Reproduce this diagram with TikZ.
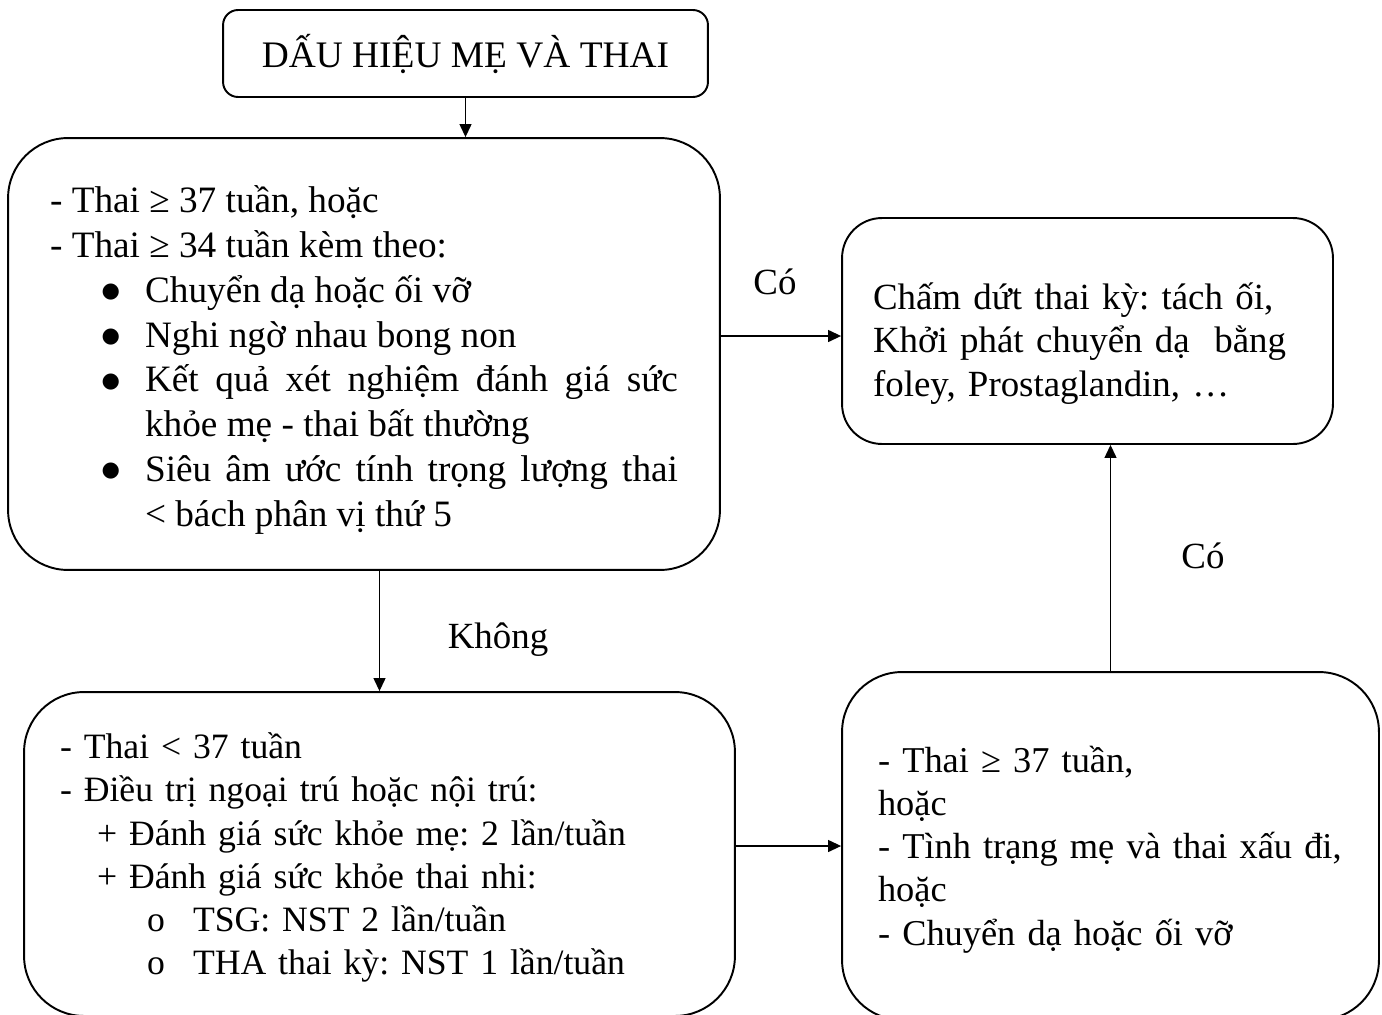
\documentclass[tikz,border=0pt]{standalone}
\usepackage{fontspec}
\setmainfont{Liberation Serif}
\newfontfamily\symfont{DejaVu Sans}
\usepackage{enumitem}
\usetikzlibrary{positioning,arrows.meta}
\frenchspacing

\begin{document}
\begin{tikzpicture}[x=0.02cm,y=-0.02cm,
  every node/.style={font=\fontsize{21pt}{25pt}\selectfont},
  box/.style={draw,line width=1.1pt,inner ysep=4pt},
  link/.style={line width=0.7pt,-{Triangle[length=0.26cm,width=0.24cm]}}]
\useasboundingbox (0,0) rectangle (1382,1014);
\clip (0,0) rectangle (1382,1014);

\node[box,rounded corners=0.3cm,minimum width=9.7cm,minimum height=1.74cm,font=\fontsize{21.3pt}{25pt}\selectfont] (signs) at (465.5,53.5) {\raisebox{-0.1cm}{DẤU HIỆU MẸ VÀ THAI}};

\node[box,rounded corners=1.2cm,text width=12.56cm,inner xsep=0.84cm,minimum height=8.64cm,align=justify,font=\fontsize{21.2pt}{25.5pt}\selectfont] (term) at (364,354) {\par\vspace*{-0.12cm}- Thai ≥ 37 tuần, hoặc\\
- Thai ≥ 34 tuần kèm theo:
\begin{itemize}[leftmargin=1.9cm,labelsep=0.5cm,itemsep=0pt,topsep=0pt,parsep=0pt,partopsep=0pt,label={\raisebox{0.09cm}{\symfont\fontsize{12pt}{12pt}\selectfont ●}}]
\item Chuyển dạ hoặc ối vỡ
\item Nghi ngờ nhau bong non
\item Kết quả xét nghiệm đánh giá sức\linebreak khỏe mẹ - thai bất thường
\item Siêu âm ước tính trọng lượng thai\linebreak < bách phân vị thứ 5
\end{itemize}};

\node[box,rounded corners=0.8cm,text width=8.58cm,inner xsep=0.62cm,minimum height=4.52cm,align=left] (end) at (1087.5,331) {\par\vspace*{0.16cm}Chấm dứt thai kỳ: tách ối,\\
Khởi phát chuyển dạ \ bằng\\
foley, Prostaglandin, …};

\node[box,rounded corners=1.2cm,text width=12.78cm,inner xsep=0.72cm,minimum height=6.48cm,align=left,font=\fontsize{20.3pt}{24.6pt}\selectfont] (wait) at (379.5,854) {\par\vspace*{-0.2cm}- Thai < 37 tuần\\
- Điều trị ngoại trú hoặc nội trú:\\
\hspace*{0.74cm}+ Đánh giá sức khỏe mẹ: 2 lần/tuần\\
\hspace*{0.74cm}+ Đánh giá sức khỏe thai nhi:\\
\hspace*{1.74cm}\makebox[0.92cm][l]{o}TSG: NST 2 lần/tuần\\
\hspace*{1.74cm}\makebox[0.92cm][l]{o}THA thai kỳ: NST 1 lần/tuần};

\node[box,rounded corners=1.2cm,text width=9.3cm,inner xsep=0.72cm,minimum height=6.96cm,align=left,font=\fontsize{20.7pt}{24.6pt}\selectfont] (check) at (1110.5,846) {\par\vspace*{-0.2cm}- Thai ≥ 37 tuần,\\
hoặc\\
- Tình trạng mẹ và thai xấu đi,\\
hoặc\\
- Chuyển dạ hoặc ối vỡ};

\node (yes1) at (775,282) {Có};
\node (no) at (498,640) {Không};
\node (yes2) at (1203,556) {Có};

\draw[link] (signs.south) -- (signs.south |- term.north);
\draw[link] ([yshift=-0.1cm]term.east |- end.west) -- ([yshift=-0.1cm]end.west);
\draw[link] (wait.north |- term.south) -- (wait.north);
\draw[link] (wait.east |- check.west) -- (check.west);
\draw[link] (check.north) -- (check.north |- end.south);
\end{tikzpicture}
\end{document}
